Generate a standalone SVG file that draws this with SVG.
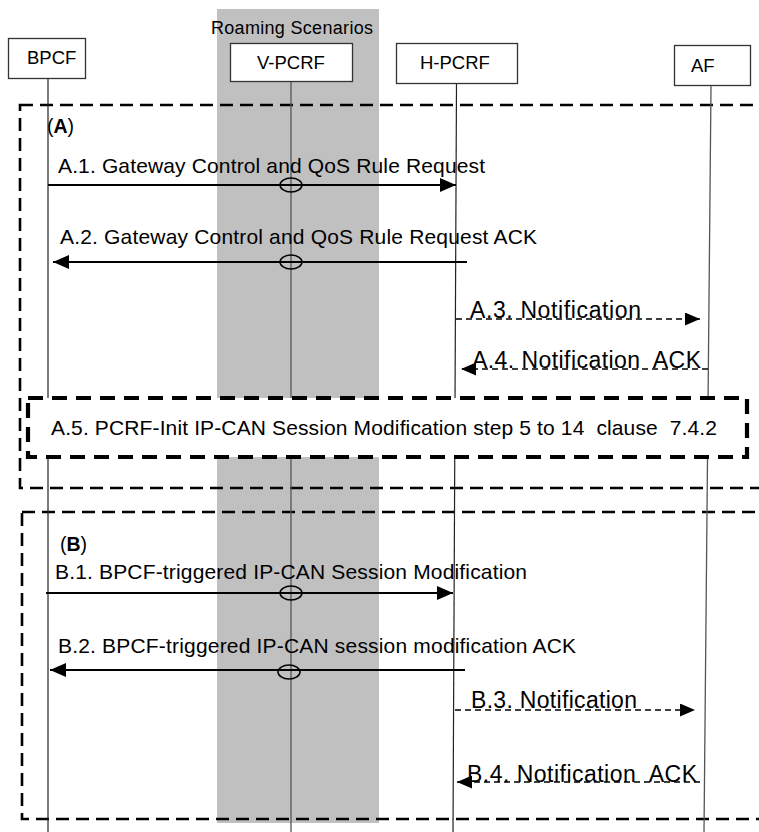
<svg xmlns="http://www.w3.org/2000/svg" width="759" height="832" viewBox="0 0 759 832">
<style>
text{font-family:"Liberation Sans",Arial,sans-serif;fill:#000;white-space:pre}
.box{fill:#fff;stroke:#333;stroke-width:1.3}
.lbl{font-size:18.5px}
.life{stroke:#222;stroke-width:1.2;fill:none}
.lifeg{stroke:#555;stroke-width:1.3;fill:none}
.frame{fill:none;stroke:#000;stroke-width:2.6;stroke-dasharray:13 7}
.frame5{fill:#fff;stroke:#000;stroke-width:4.2;stroke-dasharray:15 9}
.msg{stroke:#000;stroke-width:2.2;fill:none}
.dmsg{stroke:#000;stroke-width:1.5;fill:none;stroke-dasharray:6 4}
.ell{fill:none;stroke:#000;stroke-width:1.5}
.mt{font-size:21px}
.nt{font-size:23px}
</style>
<defs>
<marker id="ah" markerUnits="userSpaceOnUse" markerWidth="16" markerHeight="14" refX="16" refY="7" orient="auto">
<path d="M0,0 L16,7 L0,14 z" fill="#000"/>
</marker>
<marker id="ahs" markerUnits="userSpaceOnUse" markerWidth="15" markerHeight="13" refX="15" refY="6.5" orient="auto">
<path d="M0,0 L15,6.5 L0,13 z" fill="#000"/>
</marker>
</defs>

<rect id="roaming-band" x="217" y="9" width="162" height="814" fill="#c0c0c0"/>
<text x="211" y="34" font-size="18px" textLength="162">Roaming Scenarios</text>

<g id="frames">
<rect id="frame-A" class="frame" x="20" y="105" width="760" height="383"/>
<rect id="frame-B" class="frame" x="22" y="512" width="760" height="307"/>
</g>

<g id="BPCF">
<rect class="box" x="8.5" y="38.5" width="77" height="40"/>
<text class="lbl" x="27" y="64">BPCF</text>
<line class="life" x1="48" y1="79" x2="48" y2="832"/>
</g>
<g id="V-PCRF">
<rect class="box" x="230.5" y="43.5" width="122" height="38"/>
<text class="lbl" x="257" y="69">V-PCRF</text>
<line class="lifeg" x1="291" y1="82" x2="291" y2="832"/>
</g>
<g id="H-PCRF">
<rect class="box" x="396.5" y="43.5" width="121" height="40"/>
<text class="lbl" x="420" y="69">H-PCRF</text>
<line class="life" x1="456.5" y1="84" x2="453" y2="832"/>
</g>
<g id="AF">
<rect class="box" x="674.5" y="45.5" width="76" height="40"/>
<text class="lbl" x="691" y="72">AF</text>
<line class="lifeg" x1="711" y1="86" x2="704" y2="832"/>
</g>

<g id="A5">
<rect class="frame5" x="28" y="398" width="719" height="59"/>
<text class="mt" x="51" y="435" textLength="666" xml:space="preserve">A.5. PCRF-Init IP-CAN Session Modification step 5 to 14  clause  7.4.2</text>
</g>

<text x="47" y="133" font-size="19.5px">(<tspan font-weight="bold">A</tspan>)</text>
<text x="60" y="551" font-size="19.5px">(<tspan font-weight="bold">B</tspan>)</text>

<g id="connectors">
<line class="msg" x1="48" y1="185" x2="456" y2="185" marker-end="url(#ah)"/>
<ellipse class="ell" cx="291" cy="185" rx="11" ry="7"/>
<line class="msg" x1="467" y1="262" x2="53" y2="262" marker-end="url(#ah)"/>
<ellipse class="ell" cx="291" cy="262" rx="11" ry="7"/>
<line class="dmsg" x1="456" y1="319" x2="700" y2="319" marker-end="url(#ahs)"/>
<line class="dmsg" x1="708" y1="369" x2="461" y2="369" marker-end="url(#ahs)"/>
<line class="msg" x1="46" y1="593" x2="453" y2="593" marker-end="url(#ah)"/>
<ellipse class="ell" cx="291" cy="593" rx="11" ry="7"/>
<line class="msg" x1="465" y1="670" x2="50" y2="670" marker-end="url(#ah)"/>
<ellipse class="ell" cx="289" cy="672" rx="11" ry="7"/>
<line class="dmsg" x1="455" y1="710" x2="695" y2="710" marker-end="url(#ahs)"/>
<line class="dmsg" x1="700" y1="782" x2="457" y2="782" marker-end="url(#ahs)"/>
</g>

<g id="labels">
<text class="mt" x="58" y="172.5" textLength="427">A.1. Gateway Control and QoS Rule Request</text>
<text class="mt" x="60" y="243.5" textLength="477">A.2. Gateway Control and QoS Rule Request ACK</text>
<text class="nt" x="470" y="318" textLength="171">A.3. Notification</text>
<text class="nt" x="472" y="367.5" textLength="229" xml:space="preserve">A.4. Notification  ACK</text>
<text class="mt" x="55" y="578.5" textLength="472">B.1. BPCF-triggered IP-CAN Session Modification</text>
<text class="mt" x="58" y="653" textLength="518">B.2. BPCF-triggered IP-CAN session modification ACK</text>
<text class="nt" x="471" y="708" textLength="166">B.3. Notification</text>
<text class="nt" x="467" y="781.5" textLength="230" xml:space="preserve">B.4. Notification  ACK</text>
</g>
</svg>
